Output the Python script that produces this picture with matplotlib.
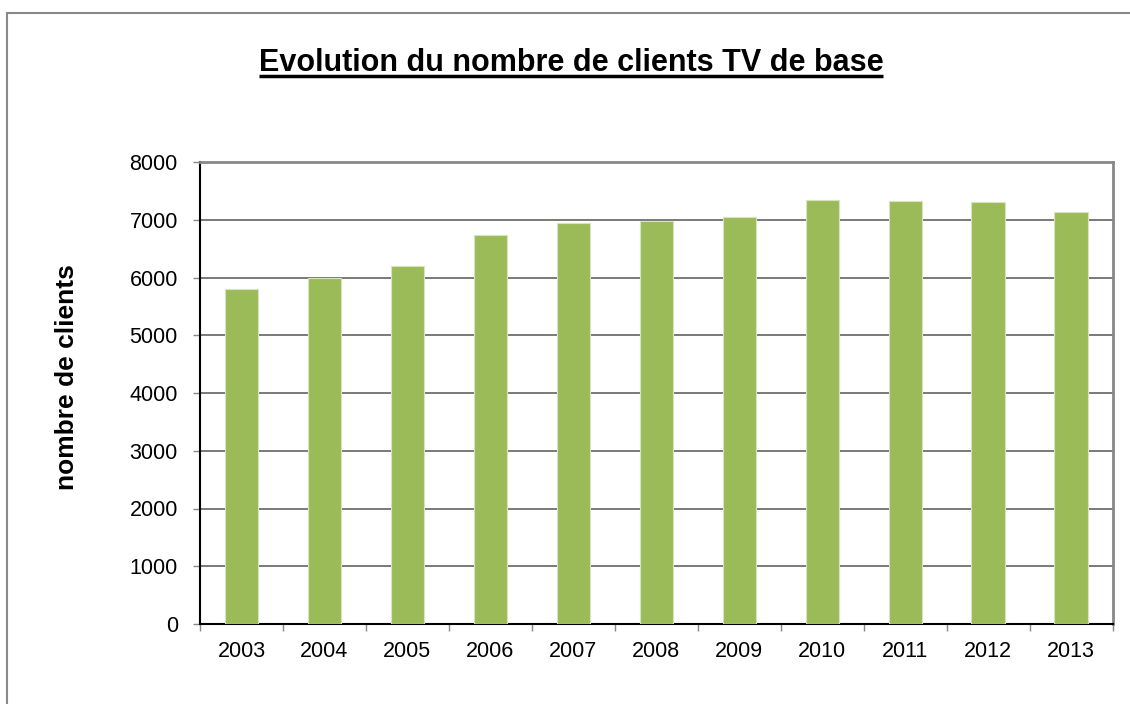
import matplotlib
matplotlib.use("Agg")
import matplotlib.pyplot as plt
from matplotlib.patches import Rectangle
from matplotlib.lines import Line2D
import numpy as np

plt.rcParams['font.family'] = ['Liberation Sans', 'DejaVu Sans']

years = ['2003', '2004', '2005', '2006', '2007', '2008', '2009', '2010', '2011', '2012', '2013']
clients = [5800, 6000, 6200, 6740, 6940, 6980, 7050, 7350, 7320, 7300, 7130]
yticks = [0, 1000, 2000, 3000, 4000, 5000, 6000, 7000, 8000]
title = 'Evolution du nombre de clients TV de base'
ylabel = 'nombre de clients'

W, H = 1130, 704
fig = plt.figure(figsize=(W / 100, H / 100), dpi=100)
fig.patch.set_facecolor('white')

# outer chart border
fig.patches.append(Rectangle((7 / W, -0.05), 1.2, (H - 13) / H + 0.05,
                             transform=fig.transFigure, fill=False,
                             edgecolor='#888888', linewidth=1.5))

ax = fig.add_axes([200 / W, 1 - 624 / H, (1112.5 - 200) / W, (624 - 162) / H])
x = np.arange(len(years))
ax.bar(x, clients, width=0.4, color='#9BBB59', edgecolor='#D7E4BD', linewidth=0.8, zorder=3)

ax.set_xlim(-0.5, len(years) - 0.5)
ax.set_ylim(0, 8000)
ax.set_yticks(yticks)
ax.set_yticklabels([str(v) for v in yticks])
ax.set_xticks(x)
ax.set_xticklabels(years)
ax.set_xticks(np.arange(-0.5, len(years), 1.0), minor=True)

ax.tick_params(axis='x', which='major', length=0, labelsize=15.5, pad=12, labelcolor='black')
ax.tick_params(axis='x', which='minor', length=5, width=1, color='#888888', direction='out')
ax.tick_params(axis='y', which='major', length=5, width=1, color='#888888', direction='out',
               labelsize=15.5, pad=11, labelcolor='black')

ax.yaxis.grid(True, color='#555555', linewidth=1.1, zorder=0)
ax.set_axisbelow(True)

for s in ['top', 'right']:
    ax.spines[s].set_color('#888888')
    ax.spines[s].set_linewidth(2)
for s in ['left', 'bottom']:
    ax.spines[s].set_color('black')
    ax.spines[s].set_linewidth(1.5)

fig.text(67.5 / W, 1 - 377 / H, ylabel, rotation=90, ha='center', va='center',
         fontsize=19, fontweight='bold')

t = fig.text(571 / W, 1 - 71 / H, title, ha='center', va='baseline',
             fontsize=22, fontweight='bold')
fig.canvas.draw()
bb = t.get_window_extent()
uy = 1 - 76 / H
fig.add_artist(Line2D([bb.x0 / W, bb.x1 / W], [uy, uy], transform=fig.transFigure,
                      color='black', linewidth=2.5, solid_capstyle='butt'))

fig.savefig('out.png', dpi=100)
